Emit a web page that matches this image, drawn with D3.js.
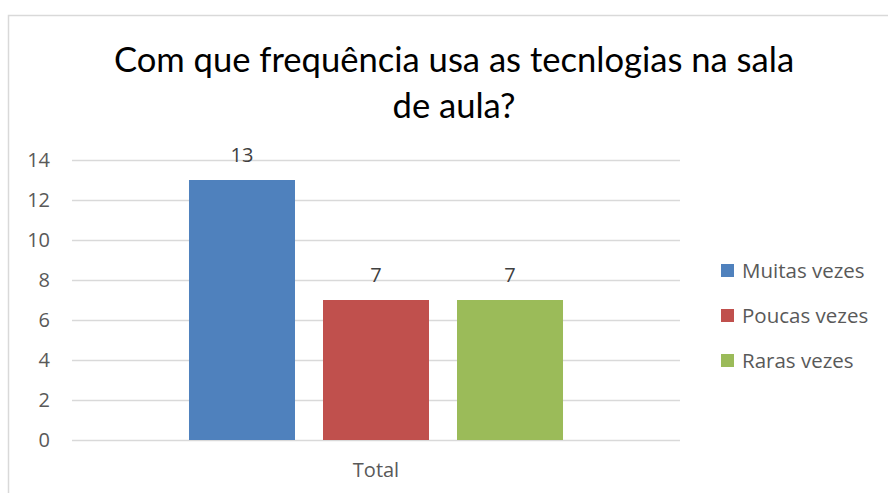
<!DOCTYPE html>
<html>
<head>
<meta charset="utf-8">
<script src="https://cdn.jsdelivr.net/npm/d3@7"></script>
<style>
  body { margin: 0; background: #fff; }
  svg { display: block; font-family: "Open Sans", sans-serif; }
</style>
</head>
<body>
<svg id="chart"></svg>
<script>
// data
var categories = ["Total"]
var seriesNames = ["Muitas vezes", "Poucas vezes", "Raras vezes"]
var seriesValues = [13, 7, 7]
var seriesColors = ["#4f81bd", "#c0504d", "#9bbb59"]
var yTicks = [0, 2, 4, 6, 8, 10, 12, 14]
var titleLines = ["Com que frequência usa as tecnlogias na sala", "de aula?"]

var dimensions = {
    width: 888,
    height: 493,
    margin: {
        top: 160,
        bottom: 53,
        right: 208,
        left: 72
    }
}

var svg = d3.select("#chart")
            .attr("width", dimensions.width)
            .attr("height", dimensions.height)

// chart frame
svg.append("rect")
   .attr("x", 8.5)
   .attr("y", 15.5)
   .attr("width", dimensions.width)
   .attr("height", dimensions.height)
   .style("fill", "#fff")
   .style("stroke", "#d9d9d9")
   .style("stroke-width", 1.5)

var yScale = d3.scaleLinear()
               .domain([0, 14])
               .range([dimensions.height - dimensions.margin.bottom, dimensions.margin.top])

var xScale = d3.scaleBand()
               .domain(categories)
               .range([dimensions.margin.left, dimensions.width - dimensions.margin.right])

var seriesScale = d3.scaleBand()
                    .domain(seriesNames)
                    .range([0, xScale.bandwidth()])
                    .paddingInner(0.209)
                    .paddingOuter(0.873)

// gridlines + y labels
var yAxisgen = d3.axisLeft(yScale)
                 .tickValues(yTicks)
                 .tickSize(-(xScale.range()[1] - xScale.range()[0]))
                 .tickPadding(22)

var yAxis = svg.append("g")
               .attr("transform", `translate(${dimensions.margin.left},0)`)
               .call(yAxisgen)
yAxis.select(".domain").remove()
yAxis.selectAll("line").style("stroke", "#d9d9d9").style("stroke-width", 1.4)
yAxis.selectAll("text")
     .style("font-size", "20px")
     .style("font-family", "'Open Sans', sans-serif")
     .style("fill", "#595959")

// bars
var group = svg.append("g")
               .attr("transform", `translate(${xScale("Total")},0)`)

group.selectAll("rect")
     .data(seriesValues)
     .enter()
     .append("rect")
     .attr("x", (d, i) => seriesScale(seriesNames[i]))
     .attr("y", d => yScale(d))
     .attr("width", seriesScale.bandwidth())
     .attr("height", d => yScale(0) - yScale(d))
     .style("fill", (d, i) => seriesColors[i])

group.selectAll(".val")
     .data(seriesValues)
     .enter()
     .append("text")
     .attr("class", "val")
     .attr("x", (d, i) => seriesScale(seriesNames[i]) + seriesScale.bandwidth() / 2)
     .attr("y", d => yScale(d) - 18)
     .attr("text-anchor", "middle")
     .style("font-size", "20px")
     .style("fill", "#404040")
     .text(d => d)

// x axis label
var xAxisgen = d3.axisBottom(xScale).tickSize(0).tickPadding(23)
var xAxis = svg.append("g")
               .attr("transform", `translate(0,${yScale(0)})`)
               .call(xAxisgen)
xAxis.select(".domain").remove()
xAxis.selectAll("text")
     .style("font-size", "20px")
     .style("font-family", "'Open Sans', sans-serif")
     .style("fill", "#595959")

// title
svg.append("text")
   .attr("x", 454)
   .attr("y", 72)
   .attr("text-anchor", "middle")
   .style("font-size", "34.6px")
   .style("font-family", "Lato, sans-serif")
   .style("fill", "#000")
   .selectAll("tspan")
   .data(titleLines)
   .enter()
   .append("tspan")
   .attr("x", 454)
   .attr("dy", (d, i) => i == 0 ? 0 : 46)
   .text(d => d)

// legend
var legend = svg.append("g")
                .attr("transform", "translate(721,271)")

var items = legend.selectAll("g")
                  .data(seriesNames)
                  .enter()
                  .append("g")
                  .attr("transform", (d, i) => `translate(0,${i * 45})`)

items.append("rect")
     .attr("x", 0)
     .attr("y", -7)
     .attr("width", 13)
     .attr("height", 13)
     .style("fill", (d, i) => seriesColors[i])

items.append("text")
     .attr("x", 21)
     .attr("y", 7)
     .style("font-size", "20.5px")
     .style("fill", "#595959")
     .text(d => d)
</script>
</body>
</html>
